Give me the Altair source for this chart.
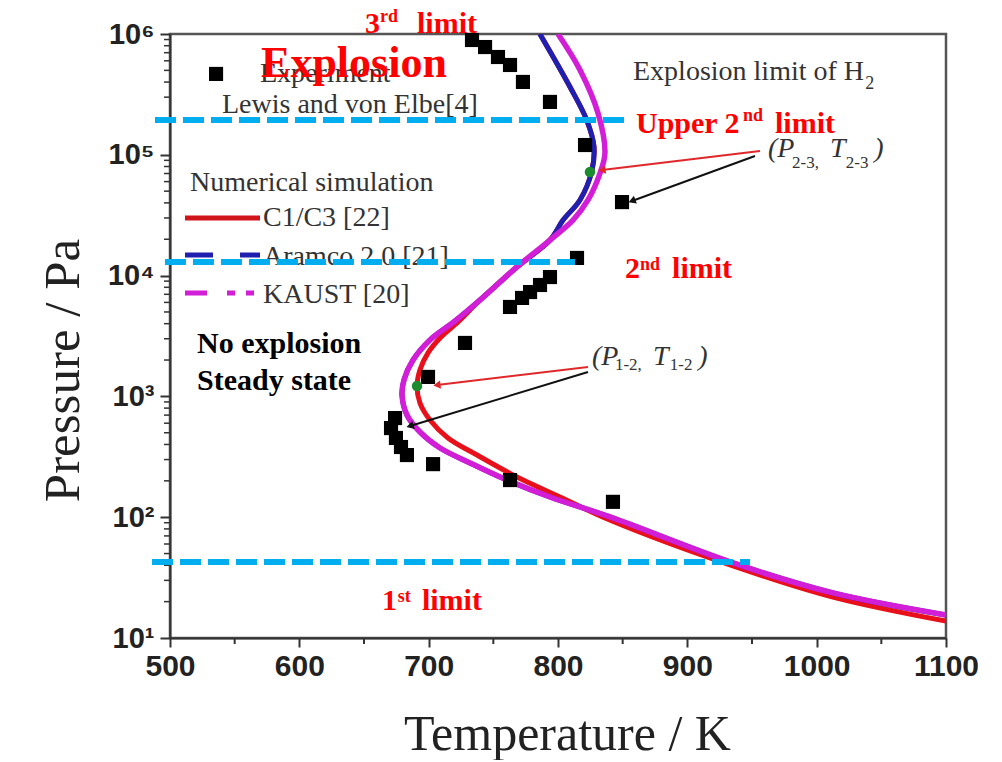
import altair as alt
import pandas as pd

# ---------------- data ----------------
# Experiment (Lewis and von Elbe [4])
exp_T = [733.5, 743.6, 753.6, 762.9, 772.9, 793.8, 820.9, 849.5, 814.7, 793.8, 786.1,
         778.4, 772.2, 762.9, 728.1, 699.5, 674.0, 670.9, 674.7, 678.6, 683.2, 703.4,
         762.9, 842.5]
exp_P = [8.92e5, 7.80e5, 6.45e5, 5.54e5, 4.01e5, 2.74e5, 1.205e5, 4.06e4, 1.40e4, 9.73e3,
         8.36e3, 7.31e3, 6.53e3, 5.50e3, 2.77e3, 1.45e3, 662, 547, 453, 381, 327, 275,
         203, 134]

# Numerical simulation curves
c13_T = [786, 809.3, 822.2, 827.8, 826.0, 817.0, 803.9, 793.8, 768.3, 739.7, 722.7, 708.8,
         699.5, 693.3, 691.0, 693.3, 701.0, 714.9, 737.4, 768.3, 801.5, 841.8, 935.3,
         1012.6, 1100]
c13_P = [1.0e6, 3.64e5, 1.94e5, 1.17e5, 7.24e4, 4.23e4, 2.88e4, 1.97e4, 1.18e4, 6.28e3,
         4.13e3, 3.04e3, 2.29e3, 1.66e3, 1.20e3, 881, 638, 453, 327, 215, 147, 93, 39.5,
         21.8, 13.8]

aramco_T = [786, 809.3, 822.2, 827.8, 826.0, 817.0, 803.9, 793.8, 768.3, 739.7, 720.4,
            701.0, 687.9, 680.9, 679.4, 683.2, 693.3, 708.8, 732.0, 755.2, 793.8, 840.2,
            935.3, 1012.6, 1100]
aramco_P = [1.0e6, 3.64e5, 1.94e5, 1.17e5, 7.24e4, 4.23e4, 2.88e4, 1.97e4, 1.18e4, 6.28e3,
            4.21e3, 2.93e3, 2.00e3, 1.37e3, 1.03e3, 702, 507, 374, 281, 215, 147, 100.5,
            41.8, 23.6, 15.5]

kaust_T = [800, 817, 830.9, 836.3, 832.5, 823.2, 811.6, 793.8, 768.3, 739.7, 720.4, 701.0,
           687.9, 680.9, 679.4, 683.2, 693.3, 708.8, 732.0, 755.2, 793.8, 840.2, 935.3,
           1012.6, 1100]
kaust_P = [1.0e6, 5.04e5, 2.22e5, 1.035e5, 7.06e4, 4.23e4, 2.88e4, 1.97e4, 1.18e4, 6.28e3,
           4.21e3, 2.93e3, 2.00e3, 1.37e3, 1.03e3, 702, 507, 374, 281, 215, 147, 100.5, 41.8,
           23.6, 15.5]

# transition points (green)
trans_T = [824.7, 691.0]
trans_P = [7.21e4, 1.22e3]

# dashed limit lines
lim_T1 = [488.4, 496.1, 486.1]
lim_T2 = [851.8, 813.1, 948.5]
lim_P = [1.94e5, 1.297e4, 42.6]

# arrows: start T/P, end T/P
arr_red_T1 = [956.2, 823.2]
arr_red_P1 = [1.075e5, 1.75e3]
arr_red_T2 = [834.0, 706.4]
arr_red_P2 = [7.48e4, 1.242e3]
arr_red_ang = [173, 173]
arr_blk_T1 = [952.3, 823.2]
arr_blk_P1 = [9.77e4, 1.59e3]
arr_blk_T2 = [857.2, 685.6]
arr_blk_P2 = [4.15e4, 569]
arr_blk_ang = [159, 163]

# legend samples
leg_T1 = [511.6, 511.6, 511.6]
leg_T2 = [569.6, 569.6, 566.5]
leg_P = [3.0e4, 1.48e4, 7.18e3]
leg_sq_T = [535.6]
leg_sq_P = [4.67e5]

# tick values
x_major = [500, 600, 700, 800, 900, 1000, 1100]
x_minor = [550, 650, 750, 850, 950, 1050]
y_major = [10, 100, 1000, 1e4, 1e5, 1e6]
y_minor = [m * d for d in [10, 100, 1000, 1e4, 1e5] for m in range(2, 10)]

# annotations
red_txt = ["3", "limit", "Upper 2", "limit", "2", "limit", "1", "limit"]
red_T = [650.8, 691.0, 860.3, 967.8, 851.8, 888.2, 663.9, 694.8]
red_P = [1.019e6, 1.019e6, 1.51e5, 1.51e5, 9.55e3, 9.55e3, 17.06, 17.06]
sup_txt = ["rd", "nd", "nd", "st"]
sup_T = [662.4, 943.0, 863.4, 676.0]
sup_P = [1.256e6, 1.905e5, 1.11e4, 19.87]
big_txt = ["Explosion"]
big_T = [570.4]
big_P = [4.41e5]
blk_txt = ["No explosion", "Steady state"]
blk_T = [520.9, 520.9]
blk_P = [2.286e3, 1.130e3]
gray_txt = ["Experiment", "Lewis and von Elbe[4]", "Numerical simulation", "C1/C3 [22]",
            "Aramco 2.0 [21]", "KAUST [20]", "Explosion limit of H"]
gray_T = [569.6, 540.2, 515.5, 571.9, 571.9, 571.9, 858.0]
gray_P = [4.01e5, 2.218e5, 5.01e4, 2.58e4, 1.225e4, 5.93e3, 4.16e5]
gsub_txt = ["2"]
gsub_T = [1037.5]
gsub_P = [3.50e5]
ital_txt = ["(P", "T", ")", "(P", "T", ")"]
ital_T = [962.4, 1010.3, 1044.5, 826.3, 873.5, 908.5]
ital_P = [9.59e4, 9.59e4, 9.59e4, 1.82e3, 1.82e3, 1.82e3]
isub_txt = ["2-3,", "2-3", "1-2,", "1-2"]
isub_T = [981.0, 1022.5, 844.0, 886.5]
isub_P = [7.78e4, 7.78e4, 1.656e3, 1.656e3]

# ---------------- chart ----------------
xs = alt.Scale(domain=[500, 1100], nice=False, zero=False)
ys = alt.Scale(type="log", domain=[10, 1e6], nice=False)

xaxis = alt.Axis(values=x_major, format="d", labelFont="Liberation Sans", labelFontWeight="bold",
                 labelFontSize=30, labelColor="#222", labelPadding=4, tickSize=9, tickWidth=2,
                 tickColor="#333", domainColor="#333", domainWidth=2, grid=False, labelFlush=False,
                 title="Temperature / K", titleFont="Liberation Serif", titleFontWeight="normal",
                 titleFontSize=50, titleColor="#222", titleX=397, titleY=111,
                 titleBaseline="alphabetic", titleAlign="center")
yaxis = alt.Axis(values=y_major,
                 labelExpr="'10' + ['\u2070','\u00b9','\u00b2','\u00b3','\u2074','\u2075','\u2076'][round(log(datum.value)/LN10)]",
                 labelFont="Liberation Sans", labelFontWeight="bold", labelFontSize=29,
                 labelColor="#222", labelPadding=6, tickSize=10, tickWidth=2, tickColor="#333",
                 domainColor="#333", domainWidth=2, grid=False, labelFlush=False,
                 title="Pressure / Pa", titleFont="Liberation Serif", titleFontWeight="normal",
                 titleFontSize=51, titleColor="#222", titleX=-92, titleY=336, titleAngle=270,
                 titleBaseline="alphabetic", titleAlign="center")


def X(f):
    return alt.X(f, type="quantitative", scale=xs, axis=xaxis)


def Y(f):
    return alt.Y(f, type="quantitative", scale=ys, axis=yaxis)


def curve_df(T, P):
    return pd.DataFrame({"T": T, "P": P, "i": list(range(len(T)))})


layers = []

# minor ticks
layers.append(alt.Chart(pd.DataFrame({"P": y_minor})).mark_rule(color="#333", strokeWidth=1.5, clip=False)
              .encode(y=Y("P"), x=alt.value(-6), x2=alt.value(0)))
layers.append(alt.Chart(pd.DataFrame({"T": x_minor})).mark_rule(color="#333", strokeWidth=2, clip=False)
              .encode(x=X("T"), y=alt.value(604), y2=alt.value(610)))

# simulation curves
for T, P, col, w in [(c13_T, c13_P, "#e8101a", 5), (aramco_T, aramco_P, "#2020b0", 5),
                     (kaust_T, kaust_P, "#d21ed6", 5.5)]:
    layers.append(alt.Chart(curve_df(T, P)).mark_line(color=col, strokeWidth=w,
                                                      interpolate="catmull-rom", clip=True)
                  .encode(x=X("T"), y=Y("P"), order="i:Q"))

# experiment squares
layers.append(alt.Chart(pd.DataFrame({"T": exp_T, "P": exp_P})).mark_square(
    color="black", opacity=1, size=200, clip=False).encode(x=X("T"), y=Y("P")))
layers.append(alt.Chart(pd.DataFrame({"T": leg_sq_T, "P": leg_sq_P})).mark_square(
    color="black", opacity=1, size=200).encode(x=X("T"), y=Y("P")))

# legend samples
leg_df = pd.DataFrame({"T1": leg_T1, "T2": leg_T2, "P": leg_P})
leg_styles = [("#d0141c", None), ("#2020b0", [28, 27]), ("#d21ed6", [22, 20, 8, 11, 8, 10])]
for k, (col, dash) in enumerate(leg_styles):
    kw = dict(color=col, strokeWidth=5)
    if dash:
        kw["strokeDash"] = dash
    layers.append(alt.Chart(leg_df.iloc[[k]]).mark_rule(**kw)
                  .encode(x=X("T1"), x2="T2", y=Y("P")))

# arrows
red_arr = pd.DataFrame({"T1": arr_red_T1, "P1": arr_red_P1, "T2": arr_red_T2, "P2": arr_red_P2,
                        "a": arr_red_ang})
blk_arr = pd.DataFrame({"T1": arr_blk_T1, "P1": arr_blk_P1, "T2": arr_blk_T2, "P2": arr_blk_P2,
                        "a": arr_blk_ang})
for df, col in [(red_arr, "#e0282a"), (blk_arr, "#111")]:
    layers.append(alt.Chart(df).mark_rule(color=col, strokeWidth=2)
                  .encode(x=X("T1"), x2="T2", y=Y("P1"), y2="P2"))
    layers.append(alt.Chart(df).mark_point(shape="triangle-right", filled=True, color=col,
                                           opacity=1, size=70)
                  .encode(x=X("T2"), y=Y("P2"), angle=alt.Angle("a:Q", scale=None)))

# transition points
layers.append(alt.Chart(pd.DataFrame({"T": trans_T, "P": trans_P})).mark_circle(
    color="#1d8c2e", opacity=1, size=110).encode(x=X("T"), y=Y("P")))


def text_layer(txt, T, P, size, color, weight="normal", style="normal", font="Liberation Serif"):
    df = pd.DataFrame({"T": T, "P": P, "txt": txt})
    return alt.Chart(df).mark_text(align="left", baseline="alphabetic", font=font, fontSize=size,
                                   fontWeight=weight, fontStyle=style, color=color).encode(
        x=X("T"), y=Y("P"), text="txt:N")


layers.append(text_layer(gray_txt, gray_T, gray_P, 28, "#333"))
layers.append(text_layer(gsub_txt, gsub_T, gsub_P, 18, "#333"))
layers.append(text_layer(ital_txt, ital_T, ital_P, 28, "#333", style="italic"))
layers.append(text_layer(isub_txt, isub_T, isub_P, 17, "#333"))

# cyan dashed limit lines
layers.append(alt.Chart(pd.DataFrame({"T1": lim_T1, "T2": lim_T2, "P": lim_P})).mark_rule(
    color="#00aeef", strokeWidth=6, strokeDash=[21, 7], clip=False)
    .encode(x=X("T1"), x2="T2", y=Y("P")))

layers.append(text_layer(red_txt, red_T, red_P, 30, "#ff0000", weight="bold"))
layers.append(text_layer(sup_txt, sup_T, sup_P, 18, "#ff0000", weight="bold"))
layers.append(text_layer(big_txt, big_T, big_P, 44, "#ff0000", weight="bold"))
layers.append(text_layer(blk_txt, blk_T, blk_P, 30, "#000", weight="bold"))

chart = alt.layer(*layers).properties(
    width=776, height=604,
    padding={"left": 162, "top": 26, "right": 40, "bottom": 122},
    autosize=alt.AutoSizeParams(type="none"),
    background="white",
).configure_view(stroke="#555", strokeWidth=2.5)

chart.save("out.html", embed_options={"renderer": "svg", "actions": False})
